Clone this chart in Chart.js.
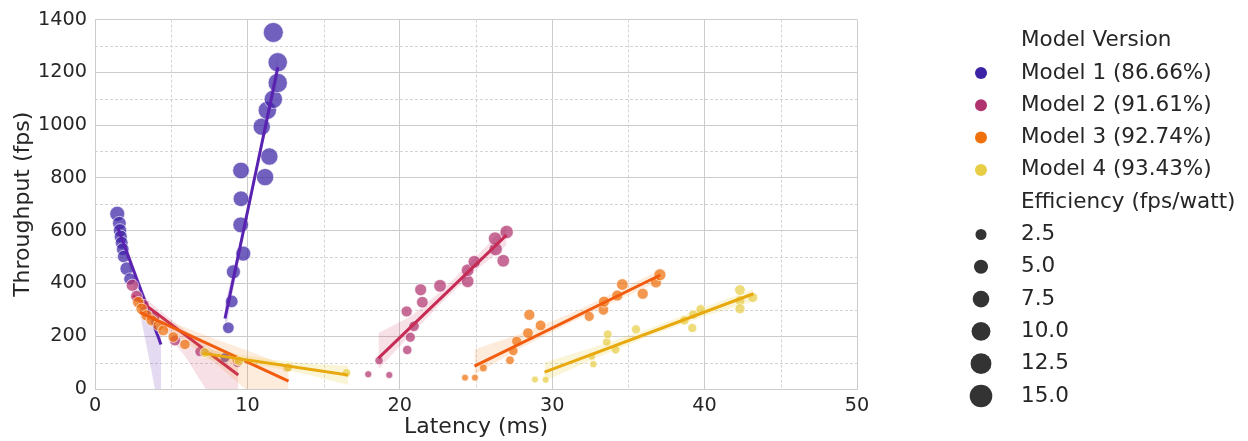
<!DOCTYPE html>
<html>
<head>
<meta charset="utf-8">
<script src="https://cdn.jsdelivr.net/npm/chart.js@4"></script>
<style>
  body { margin: 0; background: #ffffff; }
</style>
</head>
<body>
<canvas id="latencyChart" width="1248" height="441"></canvas>
<script>
var modelNames = ['Model 1 (86.66%)', 'Model 2 (91.61%)', 'Model 3 (92.74%)', 'Model 4 (93.43%)'];
var legendColors = ['#3c22a5', '#b0336f', '#ef700c', '#e8cd46'];
var pointColors = ['rgba(60,34,165,0.72)', 'rgba(176,51,111,0.72)', 'rgba(239,112,12,0.72)', 'rgba(232,205,70,0.72)'];
var lineColors = ['#5a22b0', '#c62b55', '#f25c0e', '#e8a90e'];
var bandColors = ['rgba(90,34,176,0.16)', 'rgba(198,43,85,0.14)', 'rgba(242,120,14,0.15)', 'rgba(232,190,14,0.16)'];

// latency (ms), throughput (fps), efficiency (fps/watt) per model
var m1Latency = [1.46, 1.60, 1.64, 1.69, 1.75, 1.82, 1.88, 2.08, 2.28, 8.53,
                 8.75, 8.97, 9.08, 9.73, 9.56, 9.58, 9.58, 11.16, 11.44, 10.94, 11.31, 11.70, 11.99, 11.99, 11.70];
var m1Throughput = [664, 628, 601, 577, 554, 530, 502, 456, 417, 119,
                    232, 332, 444, 513, 622, 721, 828, 803, 881, 994, 1056, 1098, 1160, 1238, 1351];
var m1Efficiency = [5.8, 4.6, 4.3, 4.1, 3.9, 3.7, 3.5, 4.4, 3.2, 1.6,
                    2.9, 3.7, 4.9, 5.8, 6.5, 6.5, 7.5, 8.2, 8.2, 8.2, 9.4, 9.4, 10.6, 10.6, 11.4];

var m2Latency = [2.45, 2.72, 3.2, 3.9, 5.25, 6.89, 9.35, 17.93, 19.31,
                 18.64, 20.49, 20.69, 20.93, 20.45, 21.48, 21.37, 22.64, 24.45, 24.45, 24.89, 26.79, 26.29, 26.25, 27.01];
var m2Throughput = [393, 352, 318, 275, 184, 142, 100, 56, 53,
                    108, 148, 196, 238, 294, 329, 376, 391, 408, 450, 482, 486, 530, 570, 595];
var m2Efficiency = [3.4, 3.0, 2.6, 2.4, 2.4, 2.0, 1.6, 0.2, 0.2,
                    0.8, 1.4, 1.8, 2.2, 2.5, 2.9, 3.2, 3.7, 3.7, 3.7, 3.7, 3.7, 4.3, 4.3, 4.3];

var m3Latency = [2.84, 3.06, 3.39, 3.72, 4.16, 4.48, 5.14, 5.9, 9.3, 12.6, 24.28, 24.93,
                 25.48, 27.23, 27.45, 27.67, 28.41, 29.24, 28.50, 32.43, 33.36, 33.40, 34.27, 34.60, 35.94, 36.81, 37.07];
var m3Throughput = [329, 304, 279, 260, 241, 222, 197, 169, 110, 80, 43, 43,
                    80, 109, 144, 181, 212, 241, 281, 275, 300, 331, 354, 396, 361, 404, 433];
var m3Efficiency = [2.8, 2.7, 2.6, 2.5, 2.4, 2.3, 2.2, 2.1, 1.5, 1.0, 0.1, 0.1,
                    0.6, 1.0, 1.4, 1.8, 2.2, 2.2, 2.5, 1.8, 2.2, 2.5, 2.5, 2.9, 2.5, 2.5, 3.2];

var m4Latency = [7.22, 9.45, 12.68, 16.5, 28.87, 29.57,
                 32.59, 32.70, 33.58, 33.64, 34.16, 35.5, 38.67, 39.19, 39.26, 39.74, 42.32, 42.32, 42.32, 43.16];
var m4Throughput = [138, 106, 82, 61, 36, 35,
                    124, 94, 178, 207, 149, 226, 260, 231, 282, 302, 375, 335, 304, 347];
var m4Efficiency = [1.8, 1.6, 1.3, 1.0, 0.1, 0.1,
                    0.6, 0.3, 0.9, 1.0, 1.0, 1.2, 1.4, 1.2, 1.4, 1.4, 2.2, 1.8, 1.8, 1.8];

// linear fits per batch group, with their confidence bands
var fitModel = [0, 0, 1, 1, 2, 2, 3, 3];
var fitLatency = [[1.5, 4.33], [8.53, 12.0], [2.5, 9.4], [18.6, 27.0], [2.95, 12.7], [24.9, 37.1], [7.1, 16.6], [29.5, 43.2]];
var fitThroughput = [[610, 169], [267, 1219], [354, 53], [117, 583], [290, 30], [87, 432], [135, 53], [64, 361]];
var bandLatency = [
  [1.5, 2.2, 2.9, 3.6, 4.33],
  [8.53, 9.4, 10.27, 11.13, 12.0],
  [2.5, 4.2, 5.95, 7.7, 9.4],
  [18.6, 20.7, 22.8, 24.9, 27.0],
  [2.95, 5.39, 7.83, 10.26, 12.7],
  [24.9, 27.95, 31.0, 34.05, 37.1],
  [7.1, 9.48, 11.85, 14.23, 16.6],
  [29.5, 32.93, 36.35, 39.78, 43.2]
];
var bandLow = [
  [570, 476, 300, 100, -120],
  [205, 480, 728, 955, 1170],
  [320, 250, 120, -40, -200],
  [75, 205, 330, 445, 545],
  [270, 200, 100, -20, -60],
  [55, 155, 245, 330, 410],
  [115, 100, 80, 50, 15],
  [30, 118, 200, 272, 332]
];
var bandHigh = [
  [645, 522, 410, 310, 250],
  [320, 530, 760, 1005, 1265],
  [385, 300, 220, 150, 115],
  [212, 275, 375, 495, 620],
  [310, 245, 190, 140, 85],
  [150, 210, 280, 365, 452],
  [155, 130, 110, 95, 88],
  [100, 162, 228, 305, 378]
];

var sizeTicks = [2.5, 5.0, 7.5, 10.0, 12.5, 15.0];
var xMinorTicks = [5, 15, 25, 35, 45];
var yMinorTicks = [100, 300, 500, 700, 900, 1100, 1300];

var latency = [m1Latency, m2Latency, m3Latency, m4Latency];
var throughput = [m1Throughput, m2Throughput, m3Throughput, m4Throughput];
var efficiency = [m1Efficiency, m2Efficiency, m3Efficiency, m4Efficiency];

var textColor = '#262626';
var gridColor = '#cccccc';

// marker area grows linearly with efficiency
function radiusFor(eff) {
  return Math.sqrt(11 + 7.8 * Math.max(eff, 0));
}

function toPoints(xs, ys) {
  return xs.map(function (x, i) { return { x: x, y: ys[i] }; });
}

var datasets = [];
for (var m = 0; m < 4; m++) {
  // bands under the points, lines on top; later models above earlier ones
  for (var f = 0; f < fitModel.length; f++) {
    if (fitModel[f] !== m) continue;
    datasets.push({
      type: 'line',
      data: toPoints(bandLatency[f], bandLow[f]),
      borderWidth: 0,
      pointRadius: 0,
      fill: false,
      order: -(m * 10)
    });
    datasets.push({
      type: 'line',
      data: toPoints(bandLatency[f], bandHigh[f]),
      borderWidth: 0,
      pointRadius: 0,
      backgroundColor: bandColors[m],
      fill: '-1',
      order: -(m * 10)
    });
  }
  datasets.push({
    label: modelNames[m],
    data: toPoints(latency[m], throughput[m]),
    backgroundColor: pointColors[m],
    borderColor: 'rgba(255,255,255,0.8)',
    borderWidth: 0.8,
    pointRadius: efficiency[m].map(radiusFor),
    order: -(m * 10 + 1)
  });
  for (var g = 0; g < fitModel.length; g++) {
    if (fitModel[g] !== m) continue;
    datasets.push({
      type: 'line',
      data: toPoints(fitLatency[g], fitThroughput[g]),
      borderColor: lineColors[m],
      borderWidth: 3,
      pointRadius: 0,
      fill: false,
      order: -(m * 10 + 2)
    });
  }
}

var minorGrid = {
  id: 'minorGrid',
  beforeDatasetsDraw: function (chart) {
    var ctx = chart.ctx, area = chart.chartArea;
    var xs = chart.scales.x, ys = chart.scales.y;
    ctx.save();
    ctx.strokeStyle = '#d4d4d4';
    ctx.lineWidth = 1;
    ctx.setLineDash([3, 2]);
    xMinorTicks.forEach(function (v) {
      var px = Math.round(xs.getPixelForValue(v)) + 0.5;
      ctx.beginPath();
      ctx.moveTo(px, area.top);
      ctx.lineTo(px, area.bottom);
      ctx.stroke();
    });
    yMinorTicks.forEach(function (v) {
      var py = Math.round(ys.getPixelForValue(v)) + 0.5;
      ctx.beginPath();
      ctx.moveTo(area.left, py);
      ctx.lineTo(area.right, py);
      ctx.stroke();
    });
    ctx.restore();
  }
};

// two-part legend: model colours, then efficiency sizes
var sideLegend = {
  id: 'sideLegend',
  afterDraw: function (chart) {
    var ctx = chart.ctx;
    var dotX = 981, textX = 1021, rowY = 40.7, step = 32.3;
    var rows = [{ text: 'Model Version' }];
    modelNames.forEach(function (name, i) { rows.push({ text: name, color: legendColors[i], r: 6 }); });
    rows.push({ text: 'Efficiency (fps/watt)' });
    sizeTicks.forEach(function (s) { rows.push({ text: s.toFixed(1), color: '#333333', r: radiusFor(s) }); });

    ctx.save();
    ctx.font = '21.5px "DejaVu Sans"';
    ctx.textBaseline = 'middle';
    ctx.textAlign = 'left';
    rows.forEach(function (row, i) {
      var y = rowY + i * step;
      if (row.r) {
        ctx.beginPath();
        ctx.arc(dotX, y, row.r, 0, Math.PI * 2);
        ctx.fillStyle = row.color;
        ctx.fill();
      }
      ctx.fillStyle = textColor;
      ctx.fillText(row.text, textX, y);
    });
    ctx.restore();
  }
};

Chart.defaults.font.family = '"DejaVu Sans"';

function plainTick(value) {
  return String(value);
}

new Chart(document.getElementById('latencyChart'), {
  type: 'scatter',
  data: { datasets: datasets },
  plugins: [minorGrid, sideLegend],
  options: {
    responsive: false,
    animation: false,
    devicePixelRatio: 1,
    events: [],
    layout: { padding: { top: 17, right: 391, bottom: 0, left: 0 } },
    plugins: {
      legend: { display: false },
      tooltip: { enabled: false }
    },
    scales: {
      x: {
        type: 'linear',
        min: 0,
        max: 50,
        ticks: { stepSize: 10, padding: 5, color: textColor, font: { size: 19.25 }, callback: plainTick },
        grid: { color: gridColor, lineWidth: 1, drawTicks: false },
        border: { color: gridColor, width: 1 },
        title: { display: true, text: 'Latency (ms)', color: textColor, font: { size: 22 }, padding: { top: 0, bottom: 1 } },
        afterFit: function (scale) { scale.height = 52; }
      },
      y: {
        min: 0,
        max: 1400,
        ticks: { stepSize: 200, padding: 8, color: textColor, font: { size: 19.25 }, callback: plainTick },
        grid: { color: gridColor, lineWidth: 1, drawTicks: false },
        border: { color: gridColor, width: 1 },
        title: { display: true, text: 'Throughput (fps)', color: textColor, font: { size: 22 }, padding: { top: 10, bottom: 0 } },
        afterFit: function (scale) { scale.width = 95; }
      }
    }
  }
});
</script>
</body>
</html>
